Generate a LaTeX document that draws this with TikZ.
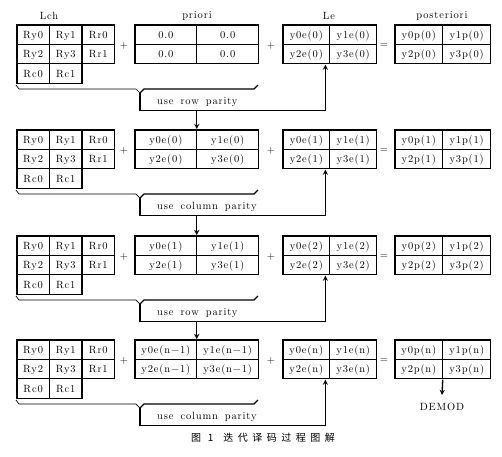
\documentclass[tikz,border=0pt]{standalone}
\usepackage{fontspec}
\usepackage{array}
\newfontfamily\tabfont{lmroman10-regular.otf}[LetterSpace=8]
\newfontfamily\cjk{Noto Sans CJK SC}[LetterSpace=45]
\newcolumntype{C}[1]{>{\centering\arraybackslash}p{#1}}
\setlength\arrayrulewidth{1.3pt}
\setlength\tabcolsep{0pt}
\renewcommand\arraystretch{1.44}
\newcommand\lchtab{\begin{tabular}{|C{31.3pt}|C{31.3pt}|C{31.3pt}|}\hline
  Ry0 & Ry1 & Rr0\\\hline Ry2 & Ry3 & Rr1\\\hline Rc0 & Rc1\\\cline{1-2}\end{tabular}}
\newcommand\quadtab[5]{\begin{tabular}{|C{#1}|C{#1}|}\hline
  #2 & #3\\\hline #4 & #5\\\hline\end{tabular}}
\begin{document}
\begin{tikzpicture}[x=1pt, y=-1pt,
    tab/.style={inner sep=0pt, anchor=north west, font=\tabfont\fontsize{10.5}{12.6}\selectfont},
    lbl/.style={font=\tabfont\fontsize{10.5}{12.6}\selectfont},
    chk/.style={anchor=north west, inner xsep=17pt, inner ysep=0pt, text width=151pt,
                align=left, minimum height=17pt, font=\tabfont\fontsize{10.5}{12.6}\selectfont},
    brc/.style={line width=0.7pt},
    dep/.style={->, >=stealth, line width=1.3pt}
]
\useasboundingbox (0,0) rectangle (502,456);
% headings
\node[lbl] (tLch) at (49,16) {Lch};
\node[lbl] (tpri) at (197,16) {priori};
\node[lbl] (tLe) at (329,16) {Le};
\node[lbl] (tpost) at (442,16) {posteriori};

% row 1
\node[tab] (lch1) at (16,24) {\lchtab};
\node[lbl] (pa1) at (124,46) {+};
\node[tab] (ext1) at (134,24) {\quadtab{60.6pt}{0.0}{0.0}{0.0}{0.0}};
\node[lbl] (pb1) at (271,46) {+};
\node[tab] (le1) at (282,24) {\quadtab{45.6pt}{y0e(0)}{y1e(0)}{y2e(0)}{y3e(0)}};
\node[lbl] (eq1) at (384,46) {=};
\node[tab] (post1) at (394,24) {\quadtab{46.6pt}{y0p(0)}{y1p(0)}{y2p(0)}{y3p(0)}};
\node[chk] (chk1) at (140,93) {use\ \ row\ \ parity};
\draw[brc] (16,85) -- (19,89) -- (136,89) -- (chk1.north west);
\draw[brc, line width=1.3pt] (chk1.north west) -- (144,89) -- (254,89) -- (258,85);
\draw[dep] (chk1.north west) -- (chk1.south west) -- (chk1.south east) -- (chk1.east |- le1.south);

% row 2
\node[tab] (lch2) at (16,129) {\lchtab};
\node[lbl] (pa2) at (124,151) {+};
\node[tab] (ext2) at (134,129) {\quadtab{60.6pt}{y0e(0)}{y1e(0)}{y2e(0)}{y3e(0)}};
\node[lbl] (pb2) at (271,151) {+};
\node[tab] (le2) at (282,129) {\quadtab{45.6pt}{y0e(1)}{y1e(1)}{y2e(1)}{y3e(1)}};
\node[lbl] (eq2) at (384,151) {=};
\node[tab] (post2) at (394,129) {\quadtab{46.6pt}{y0p(1)}{y1p(1)}{y2p(1)}{y3p(1)}};
\node[chk] (chk2) at (140,198) {use\ \ column\ \ parity};
\draw[brc] (16,190) -- (19,194) -- (136,194) -- (chk2.north west);
\draw[brc, line width=1.3pt] (chk2.north west) -- (144,194) -- (254,194) -- (258,190);
\draw[dep] (chk2.north west) -- (chk2.south west) -- (chk2.south east) -- (chk2.east |- le2.south);

% row 3
\node[tab] (lch3) at (16,235) {\lchtab};
\node[lbl] (pa3) at (124,257) {+};
\node[tab] (ext3) at (134,235) {\quadtab{60.6pt}{y0e(1)}{y1e(1)}{y2e(1)}{y3e(1)}};
\node[lbl] (pb3) at (271,257) {+};
\node[tab] (le3) at (282,235) {\quadtab{45.6pt}{y0e(2)}{y1e(2)}{y2e(2)}{y3e(2)}};
\node[lbl] (eq3) at (384,257) {=};
\node[tab] (post3) at (394,235) {\quadtab{46.6pt}{y0p(2)}{y1p(2)}{y2p(2)}{y3p(2)}};
\node[chk] (chk3) at (140,304) {use\ \ row\ \ parity};
\draw[brc] (16,296) -- (19,300) -- (136,300) -- (chk3.north west);
\draw[brc, line width=1.3pt] (chk3.north west) -- (144,300) -- (254,300) -- (258,296);
\draw[dep] (chk3.north west) -- (chk3.south west) -- (chk3.south east) -- (chk3.east |- le3.south);

% row 4
\node[tab] (lch4) at (16,339) {\lchtab};
\node[lbl] (pa4) at (124,361) {+};
\node[tab] (ext4) at (134,339) {\quadtab{60.6pt}{y0e(n−1)}{y1e(n−1)}{y2e(n−1)}{y3e(n−1)}};
\node[lbl] (pb4) at (271,361) {+};
\node[tab] (le4) at (282,339) {\quadtab{45.6pt}{y0e(n)}{y1e(n)}{y2e(n)}{y3e(n)}};
\node[lbl] (eq4) at (384,361) {=};
\node[tab] (post4) at (394,339) {\quadtab{46.6pt}{y0p(n)}{y1p(n)}{y2p(n)}{y3p(n)}};
\node[chk] (chk4) at (140,408) {use\ \ column\ \ parity};
\draw[brc] (16,400) -- (19,404) -- (136,404) -- (chk4.north west);
\draw[brc, line width=1.3pt] (chk4.north west) -- (144,404) -- (254,404) -- (258,400);
\draw[dep] (chk4.north west) -- (chk4.south west) -- (chk4.south east) -- (chk4.east |- le4.south);
\node[lbl, anchor=north, inner ysep=8pt] (demod) at (442,395) {DEMOD};
\draw[dep] (post4.south) -- (demod.north);

% passing to the next row
\draw[dep] (chk1.south -| ext2.north) -- (ext2.north);
\draw[dep] (chk2.south -| ext3.north) -- (ext3.north);
\draw[dep] (chk3.south -| ext4.north) -- (ext4.north);

\node[font=\cjk\fontsize{10}{12}\selectfont] (cap) at (263,438) {图\ 1\quad 迭代译码过程图解};
\end{tikzpicture}
\end{document}
